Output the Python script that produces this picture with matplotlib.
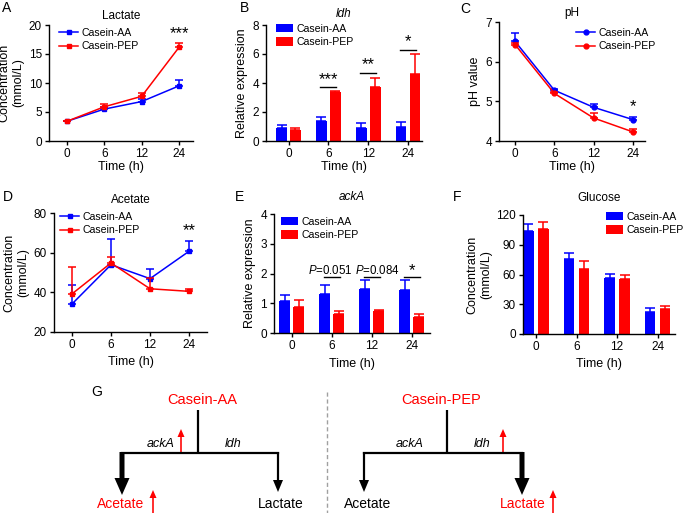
import numpy as np
import matplotlib
matplotlib.use('Agg')
import matplotlib.pyplot as plt
from matplotlib.patches import FancyArrow

plt.rcParams['font.family'] = ['Liberation Sans', 'DejaVu Sans']
plt.rcParams['mathtext.fontset'] = 'custom'
plt.rcParams['mathtext.rm'] = 'Liberation Sans'
plt.rcParams['mathtext.it'] = 'Liberation Sans:italic'
plt.rcParams['axes.linewidth'] = 1.0
plt.rcParams['xtick.major.width'] = 1.0
plt.rcParams['ytick.major.width'] = 1.0
plt.rcParams['xtick.major.size'] = 3
plt.rcParams['ytick.major.size'] = 3
plt.rcParams['xtick.labelsize'] = 8.5
plt.rcParams['ytick.labelsize'] = 8.5

# ---- data ----
times = ['0', '6', '12', '24']
groups = ['Casein-AA', 'Casein-PEP']

# A: lactate (mmol/L)
lac_aa = [3.4, 5.5, 6.8, 9.5]
lac_aa_err = [0.1, 0.35, 0.5, 1.0]
lac_pep = [3.4, 5.9, 7.7, 16.15]
lac_pep_err = [0.1, 0.5, 0.6, 0.8]

# B: ldh relative expression
ldh_aa = [0.92, 1.4, 0.87, 0.99]
ldh_aa_err = [0.15, 0.23, 0.35, 0.3]
ldh_pep = [0.76, 3.36, 3.75, 4.62]
ldh_pep_err = [0.11, 0.11, 0.57, 1.38]
ldh_sig = ['', '***', '**', '*']
ldh_sig_y = [0, 3.7, 4.67, 6.28]

# C: pH
ph_aa = [6.51, 5.28, 4.85, 4.54]
ph_aa_err = [0.22, 0.03, 0.08, 0.06]
ph_pep = [6.43, 5.2, 4.58, 4.23]
ph_pep_err = [0.03, 0.03, 0.12, 0.07]

# D: acetate (mmol/L)
ace_aa = [34.1, 53.9, 46.9, 60.7]
ace_aa_err = [9.8, 12.9, 5.0, 5.0]
ace_pep = [39.2, 54.8, 41.8, 40.5]
ace_pep_err = [13.6, 3.0, 5.2, 1.4]

# E: ackA relative expression
ack_aa = [1.06, 1.31, 1.47, 1.45]
ack_aa_err = [0.22, 0.31, 0.32, 0.33]
ack_pep = [0.89, 0.65, 0.75, 0.54]
ack_pep_err = [0.23, 0.08, 0.03, 0.1]
ack_sig = ['', '$\\it{P}$=0.051', '$\\it{P}$=0.084', '*']
ack_sig_x = [0, 0.96, 2.15, 3.02]

# F: glucose (mmol/L)
glu_aa = [104.3, 75.8, 56.0, 22.1]
glu_aa_err = [6.7, 5.7, 4.3, 4.0]
glu_pep = [105.9, 65.4, 55.6, 25.1]
glu_pep_err = [6.7, 8.7, 3.4, 3.4]

BLUE = '#0000ff'
RED = '#ff0000'
W, H = 685, 513

fig = plt.figure(figsize=(6.85, 5.13), dpi=100)


def add_ax(l, r, t, b):
    ax = fig.add_axes([l / W, 1 - b / H, (r - l) / W, (b - t) / H])
    ax.spines['top'].set_visible(False)
    ax.spines['right'].set_visible(False)
    ax.tick_params(direction='out', pad=2)
    return ax


def legend(ax, x, y, bars=False):
    kw = dict(loc='upper left', bbox_to_anchor=(x / W, 1 - (y - 5.5) / H),
              bbox_transform=fig.transFigure, frameon=False, fontsize=7.6,
              borderpad=0, borderaxespad=0, handletextpad=0.3,
              labelspacing=0.35)
    if bars:
        kw.update(handlelength=1.6, handleheight=0.9)
    else:
        kw.update(handlelength=1.8)
    ax.legend(**kw)


def line_panel(ax, aa, aa_err, pep, pep_err, marker, ms):
    x = np.arange(len(times))
    for y, e, c, lab in [(aa, aa_err, BLUE, groups[0]), (pep, pep_err, RED, groups[1])]:
        ax.errorbar(x, y, yerr=[np.zeros(len(e)), e], fmt='none', ecolor=c,
                    elinewidth=1.1, capsize=3, capthick=1.1)
        ax.plot(x, y, color=c, lw=1.1, marker=marker, ms=ms, label=lab)
    ax.set_xticks(x)
    ax.set_xticklabels(times)
    ax.set_xlabel('Time (h)', fontsize=9, labelpad=1)


def bar_panel(ax, aa, aa_err, pep, pep_err, off=0.175, w=0.27):
    x = np.arange(len(times))
    for y, e, c, lab, d in [(aa, aa_err, BLUE, groups[0], -off), (pep, pep_err, RED, groups[1], off)]:
        ax.bar(x + d, y, width=w, color=c, label=lab)
        ax.errorbar(x + d, y, yerr=[np.zeros(len(e)), e], fmt='none', ecolor=c,
                    elinewidth=1.1, capsize=3.5, capthick=1.1)
    ax.set_xticks(x)
    ax.set_xticklabels(times)
    ax.set_xlabel('Time (h)', fontsize=9, labelpad=1)


# ---- A ----
axA = add_ax(49, 193, 25, 141)
line_panel(axA, lac_aa, lac_aa_err, lac_pep, lac_pep_err, 's', 2.5)
axA.set_xlim(-0.48, 3.375)
axA.set_ylim(0, 20)
axA.set_yticks([0, 5, 10, 15, 20])
axA.set_ylabel('Concentration\n(mmol/L)', fontsize=9, labelpad=3)
axA.set_title('Lactate', fontsize=8.5, pad=4)
axA.text(3, 17.3, '***', ha='center', va='bottom', fontsize=12)
legend(axA, 59, 33)

# ---- B ----
axB = add_ax(266, 422, 25, 141)
bar_panel(axB, ldh_aa, ldh_aa_err, ldh_pep, ldh_pep_err)
axB.set_xlim(-0.565, 3.35)
axB.set_ylim(0, 8)
axB.set_yticks([0, 2, 4, 6, 8])
axB.set_ylabel('Relative expression', fontsize=9, labelpad=3)
axB.set_title('ldh', fontsize=8.5, style='italic', pad=6)
for i, (s, yy) in enumerate(zip(ldh_sig, ldh_sig_y)):
    if s:
        axB.plot([i - 0.2, i + 0.2], [yy, yy], color='k', lw=1)
        axB.text(i, yy + 0.05, s, ha='center', va='bottom', fontsize=12)
legend(axB, 276, 29, bars=True)

# ---- C ----
axC = add_ax(499, 645, 22, 141)
line_panel(axC, ph_aa, ph_aa_err, ph_pep, ph_pep_err, 'o', 3.5)
axC.set_xlim(-0.41, 3.31)
axC.set_ylim(4, 7)
axC.set_yticks([4, 5, 6, 7])
axC.set_ylabel('pH value', fontsize=9, labelpad=3)
axC.set_title('pH', fontsize=8.5, pad=4)
axC.text(3, 4.68, '*', ha='center', va='bottom', fontsize=12)
legend(axC, 576, 33)

# ---- D ----
axD = add_ax(54, 207, 213, 332)
line_panel(axD, ace_aa, ace_aa_err, ace_pep, ace_pep_err, 's', 2.5)
axD.set_xlim(-0.46, 3.46)
axD.set_ylim(20, 80)
axD.set_yticks([20, 40, 60, 80])
axD.xaxis.labelpad = 4
axD.set_ylabel('Concentration\n(mmol/L)', fontsize=9, labelpad=3)
axD.set_title('Acetate', fontsize=8.5, pad=7)
axD.text(3, 67.2, '**', ha='center', va='bottom', fontsize=12)
legend(axD, 60, 217)

# ---- E ----
axE = add_ax(274, 430, 214, 333)
bar_panel(axE, ack_aa, ack_aa_err, ack_pep, ack_pep_err)
axE.set_xlim(-0.44, 3.46)
axE.set_ylim(0, 4)
axE.set_yticks([0, 1, 2, 3, 4])
axE.xaxis.labelpad = 4
axE.set_ylabel('Relative expression', fontsize=9, labelpad=3)
axE.set_title('ackA', fontsize=8.5, style='italic', pad=10)
for i, (s, sx) in enumerate(zip(ack_sig, ack_sig_x)):
    if s:
        axE.plot([i - 0.2, i + 0.2], [1.88, 1.88], color='k', lw=1)
        if s == '*':
            axE.text(sx, 1.86, s, ha='center', va='bottom', fontsize=12)
        else:
            axE.text(sx, 1.99, s, ha='center', va='baseline', fontsize=8.3)
legend(axE, 281, 222, bars=True)

# ---- F ----
axF = add_ax(523, 675, 215, 334)
bar_panel(axF, glu_aa, glu_aa_err, glu_pep, glu_pep_err, off=0.185, w=0.26)
axF.set_xlim(-0.32, 3.43)
axF.set_ylim(0, 120)
axF.set_yticks([0, 30, 60, 90, 120])
axF.xaxis.labelpad = 4
axF.set_ylabel('Concentration\n(mmol/L)', fontsize=9, labelpad=3)
axF.set_title('Glucose', fontsize=8.5, pad=10)
legend(axF, 606, 217, bars=True)

# ---- overlay: panel letters and pathway scheme (G) ----
g = fig.add_axes([0, 0, 1, 1])
g.set_xlim(0, W)
g.set_ylim(H, 0)
g.axis('off')

for lab, x, y in [('A', 7, 8), ('B', 245, 8), ('C', 465, 9),
                  ('D', 8, 197), ('E', 240, 197), ('F', 457, 197), ('G', 97, 392)]:
    g.text(x, y, lab, fontsize=10, ha='center', va='center')


def scheme(xc, xl, xr, top_lbl, top_dx, thick_left, red_left, red_right, up_gene):
    yt, yh = 410, 453
    g.text(xc + top_dx, 400, top_lbl, color=RED, fontsize=10.5, ha='center', va='center')
    g.plot([xc, xc], [yt, yh], color='k', lw=1.6, solid_capstyle='butt')
    g.plot([xl, xr], [yh, yh], color='k', lw=1.6, solid_capstyle='projecting')
    for x, thick in [(xl, thick_left), (xr, not thick_left)]:
        if thick:
            g.add_patch(FancyArrow(x, yh - 1, 0, 43, width=5, head_width=15,
                                   head_length=17, length_includes_head=True,
                                   color='k', lw=0))
        else:
            g.add_patch(FancyArrow(x, yh - 1, 0, 40, width=2.2, head_width=10,
                                   head_length=12, length_includes_head=True,
                                   color='k', lw=0))
    g.text(xc - 37, 444, 'ackA', style='italic', fontsize=9, ha='center', va='center')
    g.text(xc + 35, 444, 'ldh', style='italic', fontsize=9, ha='center', va='center')
    g.text(xl + (-1 if red_left else 4), 504, 'Acetate',
           color=RED if red_left else 'k', fontsize=10, ha='center', va='center')
    g.text(xr + (1 if red_right else 3), 504, 'Lactate',
           color=RED if red_right else 'k', fontsize=10, ha='center', va='center')
    # red "increase" arrows
    gx = xc - 17 if up_gene == 'ackA' else xc + 56
    g.add_patch(FancyArrow(gx, yh - 1, 0, -23, width=1.6, head_width=7,
                           head_length=8, length_includes_head=True, color=RED, lw=0))
    px = xl + 31 if red_left else xr + 31
    g.add_patch(FancyArrow(px, 513, 0, -23, width=1.6, head_width=7,
                           head_length=8, length_includes_head=True, color=RED, lw=0))


scheme(198, 122, 278, 'Casein-AA', 4.5, True, True, False, 'ackA')
scheme(447, 364, 522, 'Casein-PEP', -6, False, False, True, 'ldh')
g.plot([327, 327], [392, 513], color='#a0a0a0', lw=1, ls=(0, (3, 2)))

plt.savefig('out.png', dpi=100)
